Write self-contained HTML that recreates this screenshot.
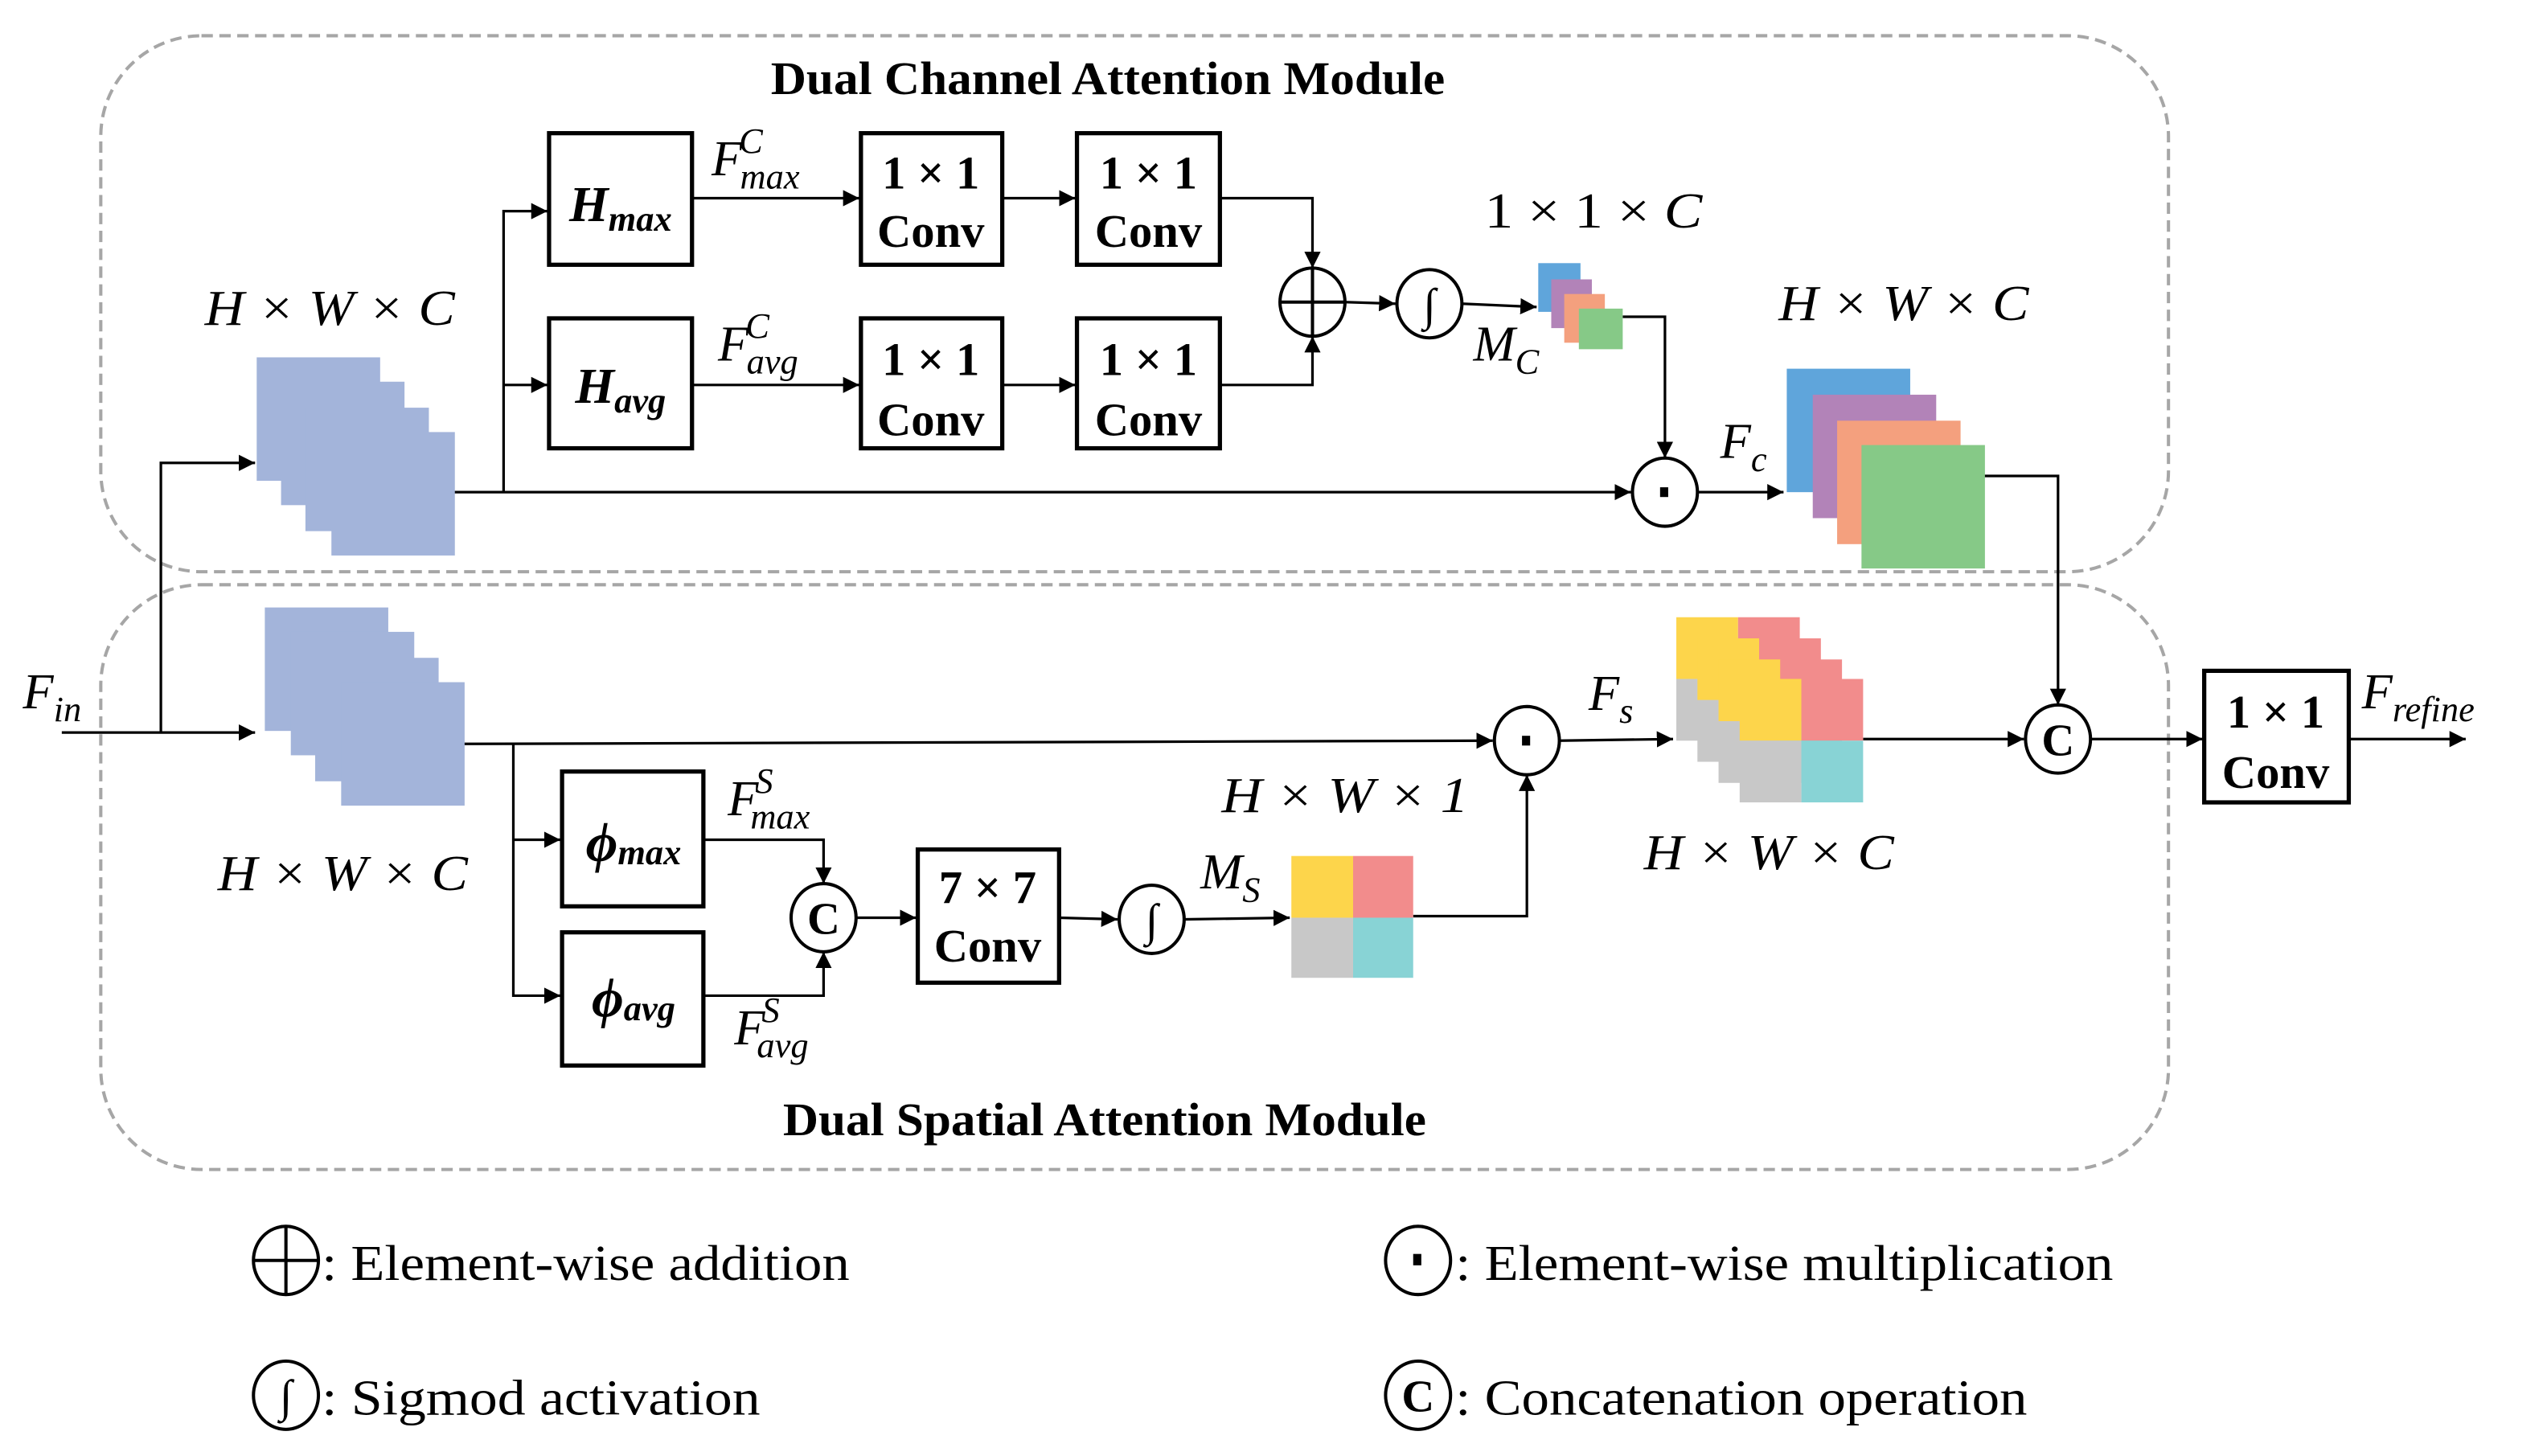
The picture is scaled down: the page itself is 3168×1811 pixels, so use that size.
<!DOCTYPE html>
<html><head><meta charset="utf-8"><style>
html,body{margin:0;padding:0;background:#fff;}
svg{display:block;}
svg text{font-family:"Liberation Serif","DejaVu Serif",serif;}
.b{font-weight:bold;font-size:29px;}
.i{font-style:italic;font-size:31px;}
.s{font-style:italic;font-size:22px;}
</style></head><body>
<svg width="3168" height="1811" viewBox="0 0 1568 896.4" xmlns="http://www.w3.org/2000/svg" font-family="Liberation Serif, DejaVu Serif, serif">
<defs>
<marker id="a" viewBox="0 0 10 10" refX="10" refY="5" markerWidth="10" markerHeight="10" markerUnits="userSpaceOnUse" orient="auto"><path d="M0,0 L10,5 L0,10 z" fill="#000"/></marker>
</defs>
<rect width="1568" height="896.4" fill="#fff"/>
<rect x="62" y="22" width="1273" height="330" rx="62" fill="none" stroke="#a6a6a6" stroke-width="2" stroke-dasharray="7,4"/>
<rect x="62" y="360" width="1273" height="360" rx="62" fill="none" stroke="#a6a6a6" stroke-width="2" stroke-dasharray="7,4"/>
<text x="682" y="58" class="b" text-anchor="middle" textLength="415" lengthAdjust="spacingAndGlyphs">Dual Channel Attention Module</text>
<text x="680" y="699" class="b" text-anchor="middle" textLength="396" lengthAdjust="spacingAndGlyphs">Dual Spatial Attention Module</text>

<g stroke="#000" stroke-width="1.6" fill="none">
<line x1="38" y1="451" x2="157" y2="451" marker-end="url(#a)"/>
<polyline points="99,451 99,285 157,285" marker-end="url(#a)"/>
<line x1="279" y1="303" x2="1004" y2="303" marker-end="url(#a)"/>
<polyline points="310,303 310,130 337,130" marker-end="url(#a)"/>
<line x1="310" y1="237" x2="337" y2="237" marker-end="url(#a)"/>
<line x1="426" y1="122" x2="529" y2="122" marker-end="url(#a)"/>
<line x1="617" y1="122" x2="662" y2="122" marker-end="url(#a)"/>
<line x1="426" y1="237" x2="529" y2="237" marker-end="url(#a)"/>
<line x1="617" y1="237" x2="662" y2="237" marker-end="url(#a)"/>
<polyline points="751,122 808,122 808,165" marker-end="url(#a)"/>
<polyline points="751,237 808,237 808,207" marker-end="url(#a)"/>
<line x1="828" y1="186" x2="859" y2="187" marker-end="url(#a)"/>
<line x1="900" y1="187" x2="946" y2="189" marker-end="url(#a)"/>
<polyline points="999,195 1025,195 1025,282" marker-end="url(#a)"/>
<line x1="1045" y1="303" x2="1098" y2="303" marker-end="url(#a)"/>
<polyline points="1221,293 1267,293 1267,434" marker-end="url(#a)"/>
<line x1="285" y1="458" x2="919" y2="456" marker-end="url(#a)"/>
<polyline points="316,458 316,613 345,613" marker-end="url(#a)"/>
<line x1="316" y1="517" x2="345" y2="517" marker-end="url(#a)"/>
<polyline points="433,517 507,517 507,544" marker-end="url(#a)"/>
<polyline points="433,613 507,613 507,586" marker-end="url(#a)"/>
<line x1="527" y1="565" x2="564" y2="565" marker-end="url(#a)"/>
<line x1="652" y1="565" x2="688" y2="566" marker-end="url(#a)"/>
<line x1="729" y1="566" x2="794" y2="565" marker-end="url(#a)"/>
<polyline points="870,564 940,564 940,477" marker-end="url(#a)"/>
<line x1="960" y1="456" x2="1030" y2="455" marker-end="url(#a)"/>
<line x1="1147" y1="455" x2="1246" y2="455" marker-end="url(#a)"/>
<line x1="1287" y1="455" x2="1356" y2="455" marker-end="url(#a)"/>
<line x1="1446" y1="455" x2="1518" y2="455" marker-end="url(#a)"/>
</g>

<g stroke="#000" stroke-width="2.6" fill="#fff">
<rect x="338" y="82" width="88" height="81"/>
<rect x="338" y="196" width="88" height="80"/>
<rect x="530" y="82" width="87" height="81"/>
<rect x="663" y="82" width="88" height="81"/>
<rect x="530" y="196" width="87" height="80"/>
<rect x="663" y="196" width="88" height="80"/>
<rect x="346" y="475" width="87" height="83"/>
<rect x="346" y="574" width="87" height="82"/>
<rect x="565" y="523" width="87" height="82"/>
<rect x="1357" y="413" width="89" height="81"/>
</g>
<g class="b" text-anchor="middle">
<text x="382" y="136" font-style="italic" font-size="31">H<tspan font-size="22" dy="6">max</tspan></text>
<text x="382" y="248" font-style="italic" font-size="31">H<tspan font-size="22" dy="6">avg</tspan></text>
<text x="573" y="116">1 × 1</text><text x="573" y="152">Conv</text>
<text x="707" y="116">1 × 1</text><text x="707" y="152">Conv</text>
<text x="573" y="231">1 × 1</text><text x="573" y="268">Conv</text>
<text x="707" y="231">1 × 1</text><text x="707" y="268">Conv</text>
<text x="608" y="556">7 × 7</text><text x="608" y="592">Conv</text>
<text x="1401" y="448">1 × 1</text><text x="1401" y="485">Conv</text>
<text x="390" y="530" font-size="34" font-style="italic">ϕ<tspan font-size="22" dy="2">max</tspan></text>
<text x="390" y="626" font-size="34" font-style="italic">ϕ<tspan font-size="22" dy="2">avg</tspan></text>
</g>

<g stroke="#000" stroke-width="2" fill="#fff">
<ellipse cx="808" cy="186" rx="20" ry="21"/>
<ellipse cx="880" cy="187" rx="20" ry="21"/>
<ellipse cx="1025" cy="303" rx="20" ry="21"/>
<ellipse cx="940" cy="456" rx="20" ry="21"/>
<ellipse cx="507" cy="565" rx="20" ry="21"/>
<ellipse cx="709" cy="566" rx="20" ry="21"/>
<ellipse cx="1267" cy="455" rx="20" ry="21"/>
<ellipse cx="176" cy="776" rx="20" ry="21"/>
<ellipse cx="873" cy="776" rx="20" ry="21"/>
<ellipse cx="176" cy="859" rx="20" ry="21"/>
<ellipse cx="873" cy="859" rx="20" ry="21"/>
</g>
<g stroke="#000" stroke-width="2">
<line x1="788" y1="186" x2="828" y2="186"/><line x1="808" y1="165" x2="808" y2="207"/>
<line x1="156" y1="776" x2="196" y2="776"/><line x1="176" y1="755" x2="176" y2="797"/>
</g>
<g fill="#000">
<rect x="1022" y="300" width="5" height="6"/>
<rect x="937" y="453" width="5" height="6"/>
<rect x="870" y="772" width="5" height="7"/>
</g>
<g font-size="28" text-anchor="middle">
<text x="880" y="197">∫</text>
<text x="709" y="576">∫</text>
<text x="176" y="869">∫</text>
<text x="507" y="575" font-weight="bold">C</text>
<text x="1267" y="465" font-weight="bold">C</text>
<text x="873" y="869" font-weight="bold">C</text>
</g>

<g fill="#a3b4da">
<rect x="158" y="220" width="76" height="76"/><rect x="173" y="235" width="76" height="76"/>
<rect x="188" y="251" width="76" height="76"/><rect x="204" y="266" width="76" height="76"/>
<rect x="163" y="374" width="76" height="76"/><rect x="179" y="389" width="76" height="76"/>
<rect x="194" y="405" width="76" height="76"/><rect x="210" y="420" width="76" height="76"/>
</g>
<rect x="947" y="162" width="26" height="30" fill="#5fa5db"/>
<rect x="955" y="172" width="25" height="30" fill="#b283b8"/>
<rect x="963" y="181" width="25" height="30" fill="#f4a07e"/>
<rect x="972" y="190" width="27" height="25" fill="#86c987"/>
<rect x="1100" y="227" width="76" height="76" fill="#5fa5db"/>
<rect x="1116" y="243" width="76" height="76" fill="#b283b8"/>
<rect x="1131" y="259" width="76" height="76" fill="#f4a07e"/>
<rect x="1146" y="274" width="76" height="76" fill="#86c987"/>
<rect x="795" y="527" width="38" height="38" fill="#fdd54b"/>
<rect x="833" y="527" width="37" height="38" fill="#f28c8c"/>
<rect x="795" y="565" width="38" height="37" fill="#c8c8c8"/>
<rect x="833" y="565" width="37" height="37" fill="#88d3d5"/>
<g>
<g transform="translate(1032,380)"><rect width="38" height="38" fill="#fdd54b"/><rect x="38" width="38" height="38" fill="#f28c8c"/><rect y="38" width="38" height="38" fill="#c8c8c8"/><rect x="38" y="38" width="38" height="38" fill="#88d3d5"/></g>
<g transform="translate(1045,393)"><rect width="38" height="38" fill="#fdd54b"/><rect x="38" width="38" height="38" fill="#f28c8c"/><rect y="38" width="38" height="38" fill="#c8c8c8"/><rect x="38" y="38" width="38" height="38" fill="#88d3d5"/></g>
<g transform="translate(1058,406)"><rect width="38" height="38" fill="#fdd54b"/><rect x="38" width="38" height="38" fill="#f28c8c"/><rect y="38" width="38" height="38" fill="#c8c8c8"/><rect x="38" y="38" width="38" height="38" fill="#88d3d5"/></g>
<g transform="translate(1071,418)"><rect width="38" height="38" fill="#fdd54b"/><rect x="38" width="38" height="38" fill="#f28c8c"/><rect y="38" width="38" height="38" fill="#c8c8c8"/><rect x="38" y="38" width="38" height="38" fill="#88d3d5"/></g>
</g>

<g class="i">
<text x="126" y="200" textLength="154" lengthAdjust="spacingAndGlyphs">H × W × C</text>
<text x="134" y="548" textLength="154" lengthAdjust="spacingAndGlyphs">H × W × C</text>
<text x="752" y="500" textLength="152" lengthAdjust="spacingAndGlyphs">H × W × 1</text>
<text x="1012" y="535" textLength="154" lengthAdjust="spacingAndGlyphs">H × W × C</text>
<text x="1095" y="197" textLength="154" lengthAdjust="spacingAndGlyphs">H × W × C</text>
<text x="914" y="140" font-style="normal" textLength="134" lengthAdjust="spacingAndGlyphs">1 × 1 × <tspan font-style="italic">C</tspan></text>
<text x="14" y="436">F<tspan class="s" dy="8">in</tspan></text>
<text x="438" y="108">F<tspan class="s" dy="-14" dx="-2">C</tspan><tspan class="s" dy="22" dx="-14">max</tspan></text>
<text x="442" y="222">F<tspan class="s" dy="-14" dx="-2">C</tspan><tspan class="s" dy="22" dx="-14">avg</tspan></text>
<text x="448" y="502">F<tspan class="s" dy="-14" dx="-2">S</tspan><tspan class="s" dy="22" dx="-14">max</tspan></text>
<text x="452" y="643">F<tspan class="s" dy="-14" dx="-2">S</tspan><tspan class="s" dy="22" dx="-14">avg</tspan></text>
<text x="907" y="222">M<tspan class="s" dy="8">C</tspan></text>
<text x="739" y="547">M<tspan class="s" dy="8">S</tspan></text>
<text x="1059" y="282">F<tspan class="s" dy="8">c</tspan></text>
<text x="978" y="437">F<tspan class="s" dy="8">s</tspan></text>
<text x="1454" y="436">F<tspan class="s" dy="8">refine</tspan></text>
</g>

<g font-size="31">
<text x="198" y="788" textLength="325" lengthAdjust="spacingAndGlyphs">: Element-wise addition</text>
<text x="198" y="871" textLength="270" lengthAdjust="spacingAndGlyphs">: Sigmod activation</text>
<text x="896" y="788" textLength="405" lengthAdjust="spacingAndGlyphs">: Element-wise multiplication</text>
<text x="896" y="871" textLength="352" lengthAdjust="spacingAndGlyphs">: Concatenation operation</text>
</g>
</svg>
</body></html>
